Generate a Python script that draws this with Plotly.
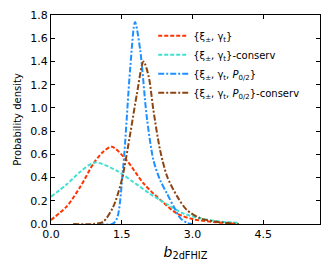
import plotly.graph_objects as go

# red dashed {xi, gamma_t}
x_red = [0.0, 0.33, 0.62, 0.9, 1.1, 1.29, 1.6, 1.96, 2.31, 2.67, 3.02, 3.5, 3.98]
y_red = [0.035, 0.15, 0.32, 0.52, 0.62, 0.665, 0.55, 0.35, 0.21, 0.09, 0.04, 0.015, 0.0]

# cyan dashed {xi, gamma_t}-conserv
x_cyan = [0.0, 0.33, 0.62, 0.93, 1.39, 1.75, 2.1, 2.46, 2.81, 3.16, 3.5, 3.98]
y_cyan = [0.235, 0.34, 0.45, 0.53, 0.46, 0.36, 0.26, 0.17, 0.09, 0.05, 0.025, 0.01]

# blue dash-dot {xi, gamma_t, P}
x_blue = [1.0, 1.3, 1.4, 1.53, 1.68, 1.78, 1.89, 2.03, 2.17, 2.31, 2.46, 2.6, 2.74, 2.88, 3.0]
y_blue = [0.0, 0.0, 0.05, 0.49, 1.35, 1.74, 1.5, 0.92, 0.55, 0.38, 0.26, 0.15, 0.05, 0.01, 0.0]

# brown dash-dot {xi, gamma_t, P}-conserv
x_brown = [0.47, 0.9, 1.11, 1.32, 1.5, 1.68, 1.82, 1.96, 2.07, 2.17, 2.31, 2.46, 2.67, 2.88, 3.16, 3.5, 3.98]
y_brown = [0.0, 0.0, 0.02, 0.15, 0.38, 0.78, 1.12, 1.40, 1.27, 0.98, 0.64, 0.41, 0.24, 0.12, 0.05, 0.02, 0.0]

names = [
    "{ξ<sub>±</sub>, γ<sub>t</sub>}",
    "{ξ<sub>±</sub>, γ<sub>t</sub>}-conserv",
    "{ξ<sub>±</sub>, γ<sub>t</sub>, <i>P</i><sub>0/2</sub>}",
    "{ξ<sub>±</sub>, γ<sub>t</sub>, <i>P</i><sub>0/2</sub>}-conserv",
]
colors = ["#ff3300", "#40e0d0", "#1e90ff", "#8b4513"]
dashes = ["4px,2px", "4px,2px", "6px,2px,2px,2px", "6px,2px,2px,2px"]

fig = go.Figure()
for xs, ys, nm, c, d in zip([x_red, x_cyan, x_blue, x_brown],
                            [y_red, y_cyan, y_blue, y_brown],
                            names, colors, dashes):
    fig.add_trace(go.Scatter(x=xs, y=ys, mode="lines", name=nm, cliponaxis=True,
                             line=dict(color=c, width=2, dash=d, shape="spline", smoothing=0.8)))

axis_common = dict(showgrid=False, zeroline=False, showline=True, linecolor="black",
                   linewidth=1, mirror="allticks", ticks="inside", ticklen=4,
                   tickcolor="black", tickfont=dict(size=11, color="black"),
                   automargin=False)

fig.update_layout(
    width=330, height=271,
    margin=dict(l=51, r=10, t=15, b=47, autoexpand=False),
    paper_bgcolor="white", plot_bgcolor="white",
    font=dict(family="DejaVu Sans", color="black"),
    xaxis=dict(range=[0, 5.7], tickvals=[0, 1.5, 3.0, 4.5],
               ticktext=["0.0", "1.5", "3.0", "4.5"],
               title=dict(text="<i>b</i><sub>2dFHIZ</sub>", font=dict(size=14), standoff=6),
               **axis_common),
    yaxis=dict(range=[0, 1.8], tickvals=[0, 0.2, 0.4, 0.6, 0.8, 1.0, 1.2, 1.4, 1.6, 1.8],
               ticktext=["0.0", "0.2", "0.4", "0.6", "0.8", "1.0", "1.2", "1.4", "1.6", "1.8"],
               title=dict(text="Probability density", font=dict(size=10), standoff=6),
               **axis_common),
    legend=dict(x=0.38, y=0.97, xanchor="left", yanchor="top", bgcolor="rgba(0,0,0,0)",
                font=dict(size=10), tracegroupgap=0, itemwidth=30),
    showlegend=True,
)

fig.write_html("out.html", config={"displayModeBar": False},
               post_script="document.body.style.margin='0px';")
